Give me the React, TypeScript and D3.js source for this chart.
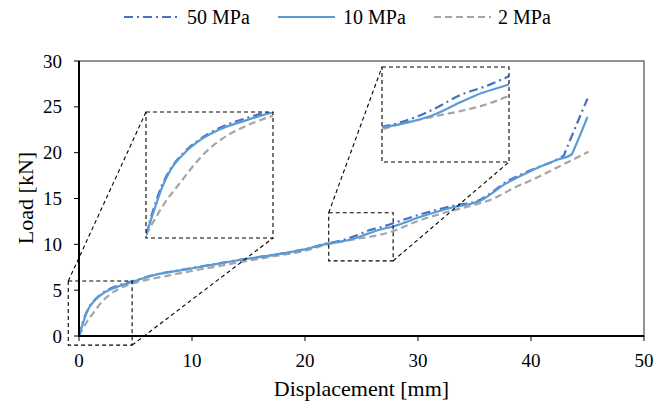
import React from "react";
import * as d3 from "d3";

// ---- Data (Displacement [mm], Load [kN]) ----
const disp50 = [0, 0.3, 0.58, 0.9, 1.4, 2.0, 2.7, 3.7, 4.7, 6.5, 9.5, 12.5, 14.2, 17, 20, 22, 22.7, 23.6, 24.6, 25.6, 26.7, 27.8, 29.5, 33.1, 35.4, 36.2, 37.8, 39.8, 42.5, 42.9, 43.05, 45.0];
const load50 = [0, 1.33, 2.35, 3.15, 3.95, 4.6, 5.12, 5.6, 5.97, 6.62, 7.3, 7.95, 8.3, 8.82, 9.47, 10.11, 10.26, 10.55, 10.99, 11.5, 11.86, 12.3, 13.0, 14.2, 14.8, 15.4, 16.8, 18.0, 19.4, 19.7, 20.15, 25.9];

const disp10 = [0, 0.33, 0.6, 0.9, 1.4, 2.0, 2.7, 3.7, 4.7, 6.5, 9.5, 12.5, 14.2, 17, 20, 22, 23.2, 24.37, 25.51, 26.59, 27.8, 30.1, 33.1, 35.4, 37.8, 39.8, 42.5, 43.6, 43.75, 45.0];
const load10 = [0, 1.3, 2.3, 3.1, 3.9, 4.55, 5.05, 5.5, 5.9, 6.6, 7.27, 7.93, 8.29, 8.8, 9.45, 10.07, 10.3, 10.63, 11.14, 11.59, 11.95, 12.95, 14.05, 14.7, 16.65, 17.9, 19.3, 19.8, 20.2, 23.9];

const disp2 = [0, 0.3, 0.65, 1.26, 2.15, 2.8, 3.4, 4.0, 4.7, 6, 8, 10, 12, 14, 17, 20, 22, 24.37, 25.51, 26.59, 27.8, 30, 32.5, 35.4, 36.5, 37.2, 38.4, 40.4, 42.5, 45.1];
const load2 = [0, 0.7, 1.45, 2.5, 3.9, 4.6, 5.05, 5.4, 5.72, 6.12, 6.62, 7.1, 7.55, 8.0, 8.65, 9.3, 10.0, 10.56, 10.78, 11.03, 11.45, 12.55, 13.5, 14.45, 14.9, 15.3, 16.1, 17.2, 18.5, 20.1];

const seriesNames = ["50 MPa", "10 MPa", "2 MPa"];
const xTicks = [0, 10, 20, 30, 40, 50];
const yTicks = [0, 5, 10, 15, 20, 25, 30];

// zoom windows (data units)
const zoom1X = [-0.95, 4.7];
const zoom1Y = [-1.0, 6.0];
const zoom2X = [22.1, 27.8];
const zoom2Y = [8.2, 13.45];
// inset plotted domains
const inset1X = [0, 4.7];
const inset1Y = [-0.144, 5.9];
const inset2X = [22, 27.85];
const inset2Y = [8.57, 12.73];

const W = 670, H = 405;
const plot = { left: 79, right: 644, top: 61, bottom: 336 };
const inset1Box = { left: 146, right: 273, top: 112, bottom: 238 };
const inset2Box = { left: 382, right: 509, top: 67, bottom: 162 };

const FONT = "Liberation Serif";

const styles = [
  { color: "#4472C4", dash: "9,4,2,4" },
  { color: "#5B9BD5", dash: "none" },
  { color: "#A5A5A5", dash: "7,4" },
];

const series = [
  { x: disp50, y: load50 },
  { x: disp10, y: load10 },
  { x: disp2, y: load2 },
];

export default function App() {
  const x = d3.scaleLinear().domain([0, 50]).range([plot.left, plot.right]);
  const y = d3.scaleLinear().domain([0, 30]).range([plot.bottom, plot.top]);

  const i1x = d3.scaleLinear().domain(inset1X).range([inset1Box.left, inset1Box.right]);
  const i1y = d3.scaleLinear().domain(inset1Y).range([inset1Box.bottom, inset1Box.top]);
  const i2x = d3.scaleLinear().domain(inset2X).range([inset2Box.left, inset2Box.right]);
  const i2y = d3.scaleLinear().domain(inset2Y).range([inset2Box.bottom, inset2Box.top]);

  const pathFor = (s: { x: number[]; y: number[] }, sx: any, sy: any) => {
    const pts: [number, number][] = s.x.map((v, i) => [sx(v), sy(s.y[i])]);
    return d3.line().curve(d3.curveMonotoneX)(pts) || "";
  };

  const order = [2, 0, 1];

  const z1 = { x0: x(zoom1X[0]), x1: x(zoom1X[1]), y0: y(zoom1Y[1]), y1: y(zoom1Y[0]) };
  const z2 = { x0: x(zoom2X[0]), x1: x(zoom2X[1]), y0: y(zoom2Y[1]), y1: y(zoom2Y[0]) };

  const legendItems = [
    { lx: 124, tx: 187 },
    { lx: 278, tx: 343 },
    { lx: 434, tx: 498 },
  ];

  const inset = (box: any, sx: any, sy: any, id: string) => (
    <g>
      <rect x={box.left} y={box.top} width={box.right - box.left} height={box.bottom - box.top} fill="#fff" stroke="none" />
      <g clipPath={`url(#${id})`}>
        {order.map((k) => (
          <path key={k} d={pathFor(series[k], sx, sy)} fill="none" stroke={styles[k].color} strokeWidth={2.2} strokeDasharray={styles[k].dash} strokeLinejoin="round" />
        ))}
      </g>
      <rect x={box.left} y={box.top} width={box.right - box.left} height={box.bottom - box.top} fill="none" stroke="#000" strokeWidth={1.1} strokeDasharray="4,3" />
    </g>
  );

  return (
    <svg width={W} height={H} style={{ position: "absolute", left: 0, top: 0, background: "#fff" }}>
      <defs>
        <clipPath id="clipMain">
          <rect x={plot.left} y={plot.top - 2} width={plot.right - plot.left} height={plot.bottom - plot.top + 2} />
        </clipPath>
        <clipPath id="clipI1">
          <rect x={inset1Box.left} y={inset1Box.top} width={inset1Box.right - inset1Box.left} height={inset1Box.bottom - inset1Box.top} />
        </clipPath>
        <clipPath id="clipI2">
          <rect x={inset2Box.left} y={inset2Box.top} width={inset2Box.right - inset2Box.left} height={inset2Box.bottom - inset2Box.top} />
        </clipPath>
      </defs>

      <rect x={plot.left} y={plot.top} width={plot.right - plot.left} height={plot.bottom - plot.top} fill="none" stroke="#595959" strokeWidth={1.3} />

      {legendItems.map((it, k) => (
        <g key={k}>
          <line x1={it.lx} x2={it.lx + 57} y1={17} y2={17} stroke={styles[k].color} strokeWidth={2.2} strokeDasharray={styles[k].dash} />
          <text x={it.tx} y={24} fontSize={20} fontFamily={FONT} fill="#000">{seriesNames[k]}</text>
        </g>
      ))}

      <g clipPath="url(#clipMain)">
        {order.map((k) => (
          <path key={k} d={pathFor(series[k], x, y)} fill="none" stroke={styles[k].color} strokeWidth={2.2} strokeDasharray={styles[k].dash} strokeLinejoin="round" />
        ))}
      </g>

      <line x1={plot.left} x2={plot.left} y1={plot.top} y2={plot.bottom} stroke="#000" strokeWidth={2} />
      <line x1={plot.left - 1} x2={plot.right} y1={plot.bottom} y2={plot.bottom} stroke="#000" strokeWidth={2} />
      {yTicks.map((t) => (
        <g key={"y" + t}>
          <line x1={plot.left - 5} x2={plot.left} y1={y(t)} y2={y(t)} stroke="#000" strokeWidth={1} />
          <text x={62} y={y(t)} dy="0.35em" textAnchor="end" fontSize={19} fontFamily={FONT} fill="#000">{t}</text>
        </g>
      ))}
      {xTicks.map((t) => (
        <g key={"x" + t}>
          <line x1={x(t)} x2={x(t)} y1={plot.bottom} y2={plot.bottom + 5} stroke="#000" strokeWidth={1} />
          <text x={x(t)} y={367} textAnchor="middle" fontSize={19} fontFamily={FONT} fill="#000">{t}</text>
        </g>
      ))}
      <text x={(plot.left + plot.right) / 2} y={396} textAnchor="middle" fontSize={22} fontFamily={FONT} fill="#000">Displacement [mm]</text>
      <text transform={`translate(25,198) rotate(-90)`} dy="0.35em" textAnchor="middle" fontSize={22} fontFamily={FONT} fill="#000">Load [kN]</text>

      <g fill="none" stroke="#000" strokeWidth={1.1} strokeDasharray="4,3">
        <rect x={z1.x0} y={z1.y0} width={z1.x1 - z1.x0} height={z1.y1 - z1.y0} />
        <rect x={z2.x0} y={z2.y0} width={z2.x1 - z2.x0} height={z2.y1 - z2.y0} />
        <line x1={z1.x0} y1={z1.y0} x2={inset1Box.left} y2={inset1Box.top} />
        <line x1={z1.x1} y1={z1.y1} x2={inset1Box.right} y2={inset1Box.bottom} />
        <line x1={z2.x0} y1={z2.y0} x2={inset2Box.left} y2={inset2Box.top} />
        <line x1={z2.x1} y1={z2.y1} x2={inset2Box.right} y2={inset2Box.bottom} />
      </g>

      {inset(inset1Box, i1x, i1y, "clipI1")}
      {inset(inset2Box, i2x, i2y, "clipI2")}
    </svg>
  );
}
